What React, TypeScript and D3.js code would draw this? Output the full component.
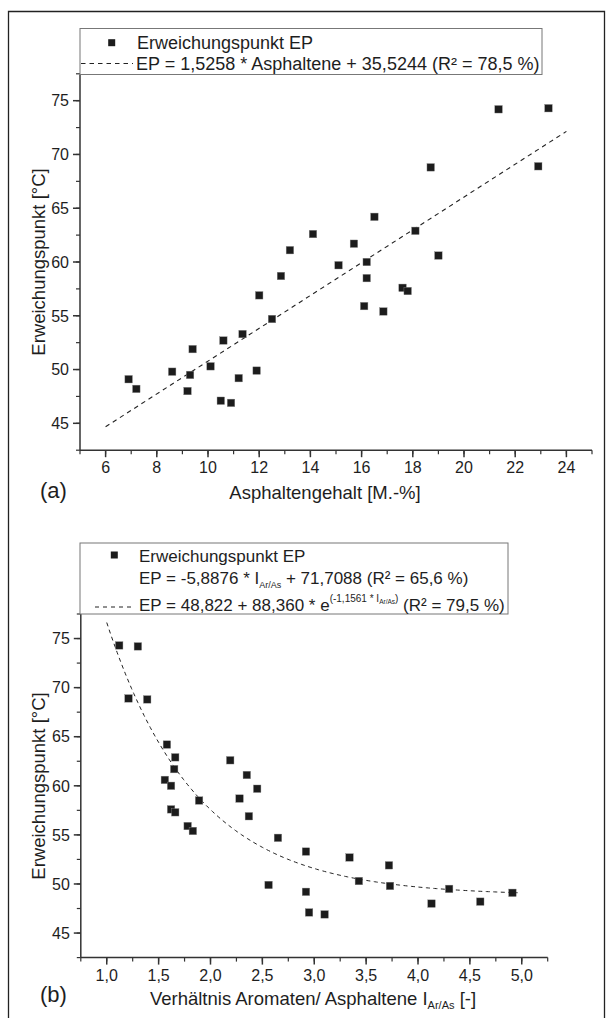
import React from "react";
import * as d3 from "d3";

// ---- Data ----
const asphaltene = [6.9, 7.2, 8.6, 9.2, 9.3, 9.4, 10.1, 10.5, 10.6, 10.9, 11.2, 11.35, 11.9, 12.0, 12.5, 12.85, 13.2, 14.1, 15.1, 15.7, 16.5, 16.2, 16.2, 16.1, 16.85, 17.6, 17.8, 18.1, 18.7, 19.0, 21.35, 22.9, 23.3];
const epTop = [49.1, 48.2, 49.8, 48.0, 49.5, 51.9, 50.3, 47.1, 52.7, 46.9, 49.2, 53.3, 49.9, 56.9, 54.7, 58.7, 61.1, 62.6, 59.7, 61.7, 64.2, 60.0, 58.5, 55.9, 55.4, 57.6, 57.3, 62.9, 68.8, 60.6, 74.2, 68.9, 74.3];

const ratio = [1.12, 1.30, 1.21, 1.39, 1.58, 1.66, 1.65, 1.56, 1.62, 1.89, 1.62, 1.66, 1.78, 1.83, 2.19, 2.35, 2.45, 2.28, 2.37, 2.65, 2.92, 3.34, 3.72, 3.43, 3.73, 2.56, 2.92, 2.95, 3.10, 4.13, 4.30, 4.60, 4.91];
const epBottom = [74.3, 74.2, 68.9, 68.8, 64.2, 62.9, 61.7, 60.6, 60.0, 58.5, 57.6, 57.3, 55.9, 55.4, 62.6, 61.1, 59.7, 58.7, 56.9, 54.7, 53.3, 52.7, 51.9, 50.3, 49.8, 49.9, 49.2, 47.1, 46.9, 48.0, 49.5, 48.2, 49.1];

// fit coefficients (from legend)
const linSlope = 1.5258;
const linIntercept = 35.5244;
const linRange = [6, 24];
const expA = 48.822;
const expB = 88.36;
const expK = -1.1561;
const expRange = [1.0, 4.97];

const xTicksTop = [6, 8, 10, 12, 14, 16, 18, 20, 22, 24];
const xMinorTop = d3.range(5, 25.01, 1);
const yTicks = [45, 50, 55, 60, 65, 70, 75];
const yMinor = d3.range(42.5, 77.51, 2.5);
const xTicksBottom = [1.0, 1.5, 2.0, 2.5, 3.0, 3.5, 4.0, 4.5, 5.0];
const xMinorBottom = d3.range(0.75, 5.251, 0.25);

const FONT = "'Liberation Sans', Arial, Helvetica, sans-serif";
const TXT = "#1e1e1e";
const AX = "#333";

const fmtComma = (v: number) => v.toFixed(1).replace(".", ",");

function Axes({ x, y, xMajor, xMinor, fmtX, yTop }: any) {
  const [x0, x1] = x.range();
  const [yb] = y.range();
  return (
    <g>
      <line x1={x0} x2={x1} y1={yb} y2={yb} stroke={AX} strokeWidth={1.5} />
      <line x1={x0} x2={x0} y1={yTop} y2={yb} stroke={AX} strokeWidth={1.5} />
      {xMinor.map((t: number, i: number) => (
        <line key={"xm" + i} x1={x(t)} x2={x(t)} y1={yb} y2={yb + 4} stroke={AX} strokeWidth={1.2} />
      ))}
      {xMajor.map((t: number, i: number) => (
        <g key={"xM" + i}>
          <line x1={x(t)} x2={x(t)} y1={yb} y2={yb + 7} stroke={AX} strokeWidth={1.5} />
          <text x={x(t)} y={yb + 23} textAnchor="middle" fontSize={16} fill={TXT} fontFamily={FONT}>
            {fmtX(t)}
          </text>
        </g>
      ))}
      {yMinor.map((t: number, i: number) => (
        <line key={"ym" + i} x1={x0 - 4} x2={x0} y1={y(t)} y2={y(t)} stroke={AX} strokeWidth={1.2} />
      ))}
      {yTicks.map((t: number, i: number) => (
        <g key={"yM" + i}>
          <line x1={x0 - 7} x2={x0} y1={y(t)} y2={y(t)} stroke={AX} strokeWidth={1.5} />
          <text x={x0 - 11} y={y(t)} dy="0.36em" textAnchor="end" fontSize={16} fill={TXT} fontFamily={FONT}>
            {t}
          </text>
        </g>
      ))}
    </g>
  );
}

export default function App() {
  // top panel
  const xT = d3.scaleLinear().domain([5, 25]).range([80, 592]);
  const yT = d3.scaleLinear().domain([42.5, 77.5]).range([450.2, 73.8]);
  // bottom panel
  const xB = d3.scaleLinear().domain([0.75, 5.25]).range([80.8, 547.7]);
  const yB = d3.scaleLinear().domain([42.5, 77.5]).range([957.6, 614]);

  const linePts = linRange.map((v) => [v, linSlope * v + linIntercept] as [number, number]);
  const linePath = d3.line<[number, number]>().x((d) => xT(d[0])).y((d) => yT(d[1]))(linePts);

  const expPts = d3.range(expRange[0], expRange[1] + 0.001, 0.02).map((v) => [v, expA + expB * Math.exp(expK * v)] as [number, number]);
  const expPath = d3.line<[number, number]>().x((d) => xB(d[0])).y((d) => yB(d[1]))(expPts);

  const sq = 7.5;

  return (
    <svg width={607} height={1018} style={{ position: "absolute", left: 0, top: 0, background: "#fff" }} fontFamily={FONT}>
      <rect x={0} y={0} width={607} height={1018} fill="#fff" />
      {/* outer frame */}
      <path d="M8.5,1018 V11.5 H604.5 V1018" fill="none" stroke="#222" strokeWidth={1.3} />

      {/* ===== TOP PANEL ===== */}
      <Axes x={xT} y={yT} xMajor={xTicksTop} xMinor={xMinorTop} fmtX={(t: number) => String(t)} yTop={74.5} />
      <path d={linePath || ""} fill="none" stroke="#222" strokeWidth={1.1} strokeDasharray="4.5,4" />
      {asphaltene.map((v, i) => (
        <rect key={"pt" + i} x={xT(v) - sq / 2} y={yT(epTop[i]) - sq / 2} width={sq} height={sq} fill="#1c1c1c" stroke="#888" strokeWidth={0.4} />
      ))}
      {/* legend top */}
      <rect x={80} y={28.5} width={462} height={46} fill="#fff" stroke="#777" strokeWidth={1} />
      <rect x={111.7 - 3.5} y={42.7 - 3.5} width={7} height={7} fill="#1c1c1c" />
      <text x={137} y={48.5} fontSize={18} fill={TXT}>Erweichungspunkt EP</text>
      <line x1={81} x2={133} y1={63.5} y2={63.5} stroke="#222" strokeWidth={1.1} strokeDasharray="4.5,4" />
      <text x={136} y={69.5} fontSize={18} fill={TXT}>EP = 1,5258 * Asphaltene + 35,5244 (R² = 78,5 %)</text>

      <text x={45} y={262} transform="rotate(-90 45 262)" textAnchor="middle" fontSize={18.5} fill={TXT}>Erweichungspunkt [°C]</text>
      <text x={325} y={499} textAnchor="middle" fontSize={18.5} fill={TXT}>Asphaltengehalt [M.-%]</text>
      <text x={40} y={498} fontSize={22} fill={TXT}>(a)</text>

      {/* ===== BOTTOM PANEL ===== */}
      <Axes x={xB} y={yB} xMajor={xTicksBottom} xMinor={xMinorBottom} fmtX={fmtComma} yTop={614} />
      <path d={expPath || ""} fill="none" stroke="#222" strokeWidth={1} strokeDasharray="4,3.5" />
      {ratio.map((v, i) => (
        <rect key={"pb" + i} x={xB(v) - sq / 2} y={yB(epBottom[i]) - sq / 2} width={sq} height={sq} fill="#1c1c1c" stroke="#888" strokeWidth={0.4} />
      ))}
      {/* legend bottom */}
      <rect x={80} y={543} width={428} height={71} fill="#fff" stroke="#777" strokeWidth={1} />
      <rect x={114.3 - 3.5} y={555 - 3.5} width={7} height={7} fill="#1c1c1c" />
      <text x={139} y={562} fontSize={17} fill={TXT}>Erweichungspunkt EP</text>
      <text x={139} y={583.5} fontSize={17} fill={TXT}>
        EP = -5,8876 * I<tspan fontSize={9} dy={4}>Ar/As</tspan>
        <tspan dy={-4}> + 71,7088 (R² = 65,6 %)</tspan>
      </text>
      <line x1={95} x2={135} y1={607} y2={607} stroke="#222" strokeWidth={1} strokeDasharray="4,4" />
      <text x={139} y={610.5} fontSize={17} fill={TXT}>
        EP = 48,822 + 88,360 * e
        <tspan fontSize={10} dy={-9}>(-1,1561 * I</tspan>
        <tspan fontSize={6.5} dy={2}>Ar/As</tspan>
        <tspan fontSize={10} dy={-2}>)</tspan>
        <tspan dy={9}> (R² = 79,5 %)</tspan>
      </text>

      <text x={45} y={786} transform="rotate(-90 45 786)" textAnchor="middle" fontSize={18.5} fill={TXT}>Erweichungspunkt [°C]</text>
      <text x={313} y={1005} textAnchor="middle" fontSize={18.5} fill={TXT}>
        Verhältnis Aromaten/ Asphaltene I<tspan fontSize={11} dy={4}>Ar/As</tspan>
        <tspan dy={-4}> [-]</tspan>
      </text>
      <text x={40} y={1002} fontSize={22} fill={TXT}>(b)</text>
    </svg>
  );
}
